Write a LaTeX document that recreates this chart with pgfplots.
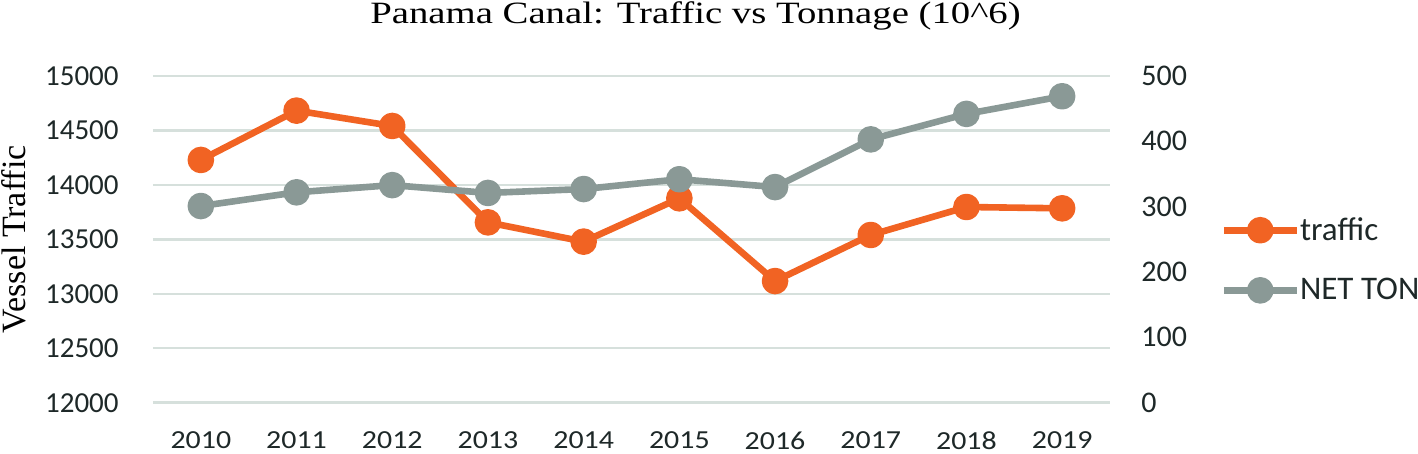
\documentclass[border=0pt]{standalone}
\usepackage{pgfplots}
\pgfplotsset{compat=1.18}
\usepackage{fontspec}
\setmainfont{Liberation Serif}
\newfontfamily\carlito{Carlito}

\definecolor{traffic}{HTML}{F16323}
\definecolor{netton}{HTML}{8A9996}
\definecolor{gridc}{HTML}{D6E0DC}
\definecolor{txt}{HTML}{1E2828}

\pgfplotsset{
    base/.style={
        width=478.5pt, height=163.35pt, scale only axis,
        xmin=-0.5, xmax=9.5,
        axis line style={draw=none},
        major tick length=0pt,
        tick label style={font=\carlito\fontsize{14.5}{17}\selectfont, text=txt},
        /pgf/number format/assume math mode=true,
        /pgf/number format/1000 sep={},
        scaled y ticks=false,
        clip=false,
    },
    series/.style={color=#1, line width=3.3pt, line join=round,
        mark=*, mark size=5pt, mark options={solid, fill=#1, draw=none}},
}

\begin{document}
\begin{tikzpicture}
\begin{axis}[
    base, name=main,
    ymin=12000, ymax=15000,
    ytick={12000,12500,...,15000},
    ymajorgrids, grid style={gridc, line width=1.2pt},
    xtick={0,...,9},
    xticklabels={2010,2011,2012,2013,2014,2015,2016,2017,2018,2019},
    xticklabel style={anchor=north, inner sep=0pt, yshift=-14.5pt, xscale=1.15,
        font=\carlito\fontsize{13}{16}\selectfont},
    yticklabel style={anchor=east, inner sep=0pt, xshift=-17pt},
    ylabel={Vessel Traffic},
    ylabel style={at={(axis description cs:0,0.5)}, anchor=base, yshift=63.5pt,
        font=\fontsize{17}{20}\selectfont},
    title={Panama Canal: Traffic vs Tonnage (10\textasciicircum 6)},
    title style={at={(axis description cs:0.5,1)}, anchor=base, yshift=20pt, xshift=32pt,
        xscale=1.25, font=\fontsize{15.5}{18}\selectfont},
]
\addplot[series=traffic] coordinates {
    (0, 14229)
    (1, 14682)
    (2, 14541)
    (3, 13656)
    (4, 13479)
    (5, 13877)
    (6, 13117)
    (7, 13540)
    (8, 13797)
    (9, 13785)
};
\end{axis}

\begin{axis}[
    base,
    ymin=0, ymax=500,
    ytick={0,100,...,500},
    axis y line*=right, axis x line=none,
    yticklabel style={anchor=west, inner sep=0pt, xshift=15.5pt,
        font=\carlito\fontsize{15}{17}\selectfont},
    legend style={at={(axis description cs:1.115,0.437)}, anchor=west,
        draw=none, fill=none, inner sep=0pt, row sep=17.5pt,
        nodes={inner sep=0pt, font=\carlito\fontsize{16.5}{19}\selectfont, text=txt},
        /tikz/every odd column/.append style={column sep=0pt}},
    legend cell align=left,
    legend image code/.code={
        \draw[mark repeat=2, mark phase=2] plot coordinates {(0pt,0pt) (18.25pt,0pt) (36.5pt,0pt)};},
]
\addlegendimage{series=traffic}
\addlegendentry{traffic}
\addplot[series=netton] coordinates {
    (0, 301)
    (1, 322)
    (2, 333)
    (3, 321)
    (4, 327)
    (5, 342)
    (6, 330)
    (7, 403)
    (8, 442)
    (9, 469)
};
\addlegendentry{NET TON}
\end{axis}
\pgfresetboundingbox
\path[use as bounding box] ([xshift=-76.5pt, yshift=-25.65pt]main.south west)
    rectangle ([xshift=154pt, yshift=38pt]main.north east);
\end{tikzpicture}
\end{document}
